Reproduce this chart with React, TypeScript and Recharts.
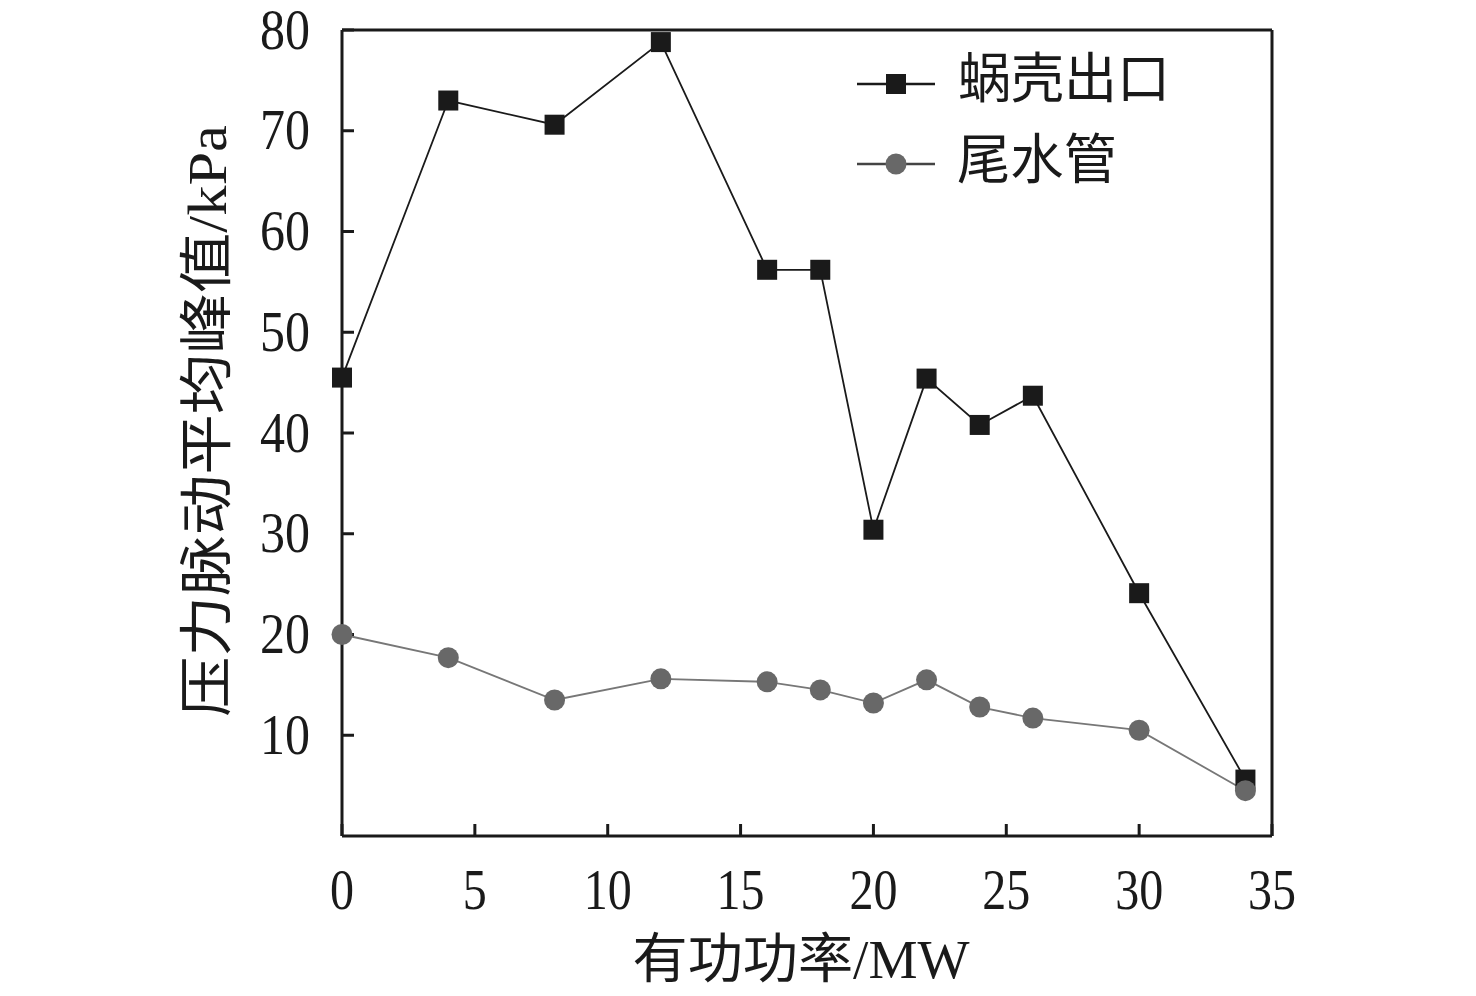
import React from 'react';
import { LineChart, Line, XAxis, YAxis, ReferenceLine, Legend, Label } from 'recharts';

const power = [0, 4, 8, 12, 16, 18, 20, 22, 24, 26, 30, 34];
const volute = [45.5, 73.0, 70.6, 78.8, 56.2, 56.2, 30.4, 45.4, 40.8, 43.7, 24.1, 5.6];
const draft = [20.0, 17.7, 13.5, 15.6, 15.3, 14.5, 13.2, 15.5, 12.8, 11.7, 10.5, 4.5];
const xTicks = [0, 5, 10, 15, 20, 25, 30, 35];
const yTicks = [10, 20, 30, 40, 50, 60, 70, 80];
const seriesNames = ['蜗壳出口', '尾水管'];
const xTitle = '有功功率/MW';
const yTitle = '压力脉动平均峰值/kPa';

const data = power.map((p, i) => ({ p, volute: volute[i], draft: draft[i] }));

const FONT = '"Liberation Serif", "Times New Roman", "Noto Sans CJK SC", serif';
const BLACK = '#1a1a1a';
const GRAY = '#686868';

const SquareDot = (props: any) => {
  const { cx, cy, index } = props;
  if (cx == null || cy == null) return null;
  return <rect key={`sq-${index}`} x={cx - 10} y={cy - 10} width={20} height={20} fill={BLACK} />;
};

const CircleDot = (props: any) => {
  const { cx, cy, index } = props;
  if (cx == null || cy == null) return null;
  return <circle key={`ci-${index}`} cx={cx} cy={cy} r={10.5} fill={GRAY} />;
};

const XTick = (props: any) => {
  const { x, y, payload } = props;
  const s = String(payload.value);
  return (
    <text
      x={x}
      y={y + 43}
      textAnchor="middle"
      fontFamily={FONT}
      fontSize={56}
      fill={BLACK}
      textLength={24 * s.length}
      lengthAdjust="spacingAndGlyphs"
    >
      {s}
    </text>
  );
};

const YTick = (props: any) => {
  const { x, y, payload } = props;
  const s = String(payload.value);
  return (
    <text
      x={x - 2}
      y={y + 18.5}
      textAnchor="end"
      fontFamily={FONT}
      fontSize={56}
      fill={BLACK}
      textLength={25 * s.length}
      lengthAdjust="spacingAndGlyphs"
    >
      {s}
    </text>
  );
};

const LegendContent = () => (
  <svg width={360} height={150} style={{ display: 'block' }}>
    <line x1={7} x2={85} y1={34} y2={34} stroke={BLACK} strokeWidth={2.5} />
    <rect x={36} y={24} width={20} height={20} fill={BLACK} />
    <text
      x={108}
      y={30}
      dominantBaseline="central"
      fontFamily={FONT}
      fontSize={54}
      fill={BLACK}
      textLength={212}
      lengthAdjust="spacingAndGlyphs"
    >
      {seriesNames[0]}
    </text>
    <line x1={7} x2={85} y1={114} y2={114} stroke="#444" strokeWidth={2.5} />
    <circle cx={46} cy={114} r={10.5} fill={GRAY} />
    <text
      x={107}
      y={111}
      dominantBaseline="central"
      fontFamily={FONT}
      fontSize={54}
      fill={BLACK}
      textLength={160}
      lengthAdjust="spacingAndGlyphs"
    >
      {seriesNames[1]}
    </text>
  </svg>
);

export default function App() {
  return (
    <div style={{ position: 'absolute', left: 0, top: 0, background: '#fff' }}>
      <LineChart
        width={1476}
        height={996}
        data={data}
        margin={{ top: 30, right: 204, bottom: 0, left: 0 }}
      >
        <XAxis
          dataKey="p"
          type="number"
          domain={[0, 35]}
          ticks={xTicks}
          interval={0}
          height={160}
          axisLine={{ stroke: BLACK, strokeWidth: 3 }}
          tickLine={{ stroke: BLACK, strokeWidth: 3 }}
          tickSize={-12}
          tickMargin={42}
          tick={<XTick />}
        >
          <Label
            content={(props: any) => {
              const vb = props.viewBox || {};
              return (
                <text
                  x={vb.x + vb.width / 2 - 6}
                  y={vb.y + 124}
                  textAnchor="middle"
                  dominantBaseline="central"
                  fontFamily={FONT}
                  fontSize={54}
                  fill={BLACK}
                  textLength={337}
                  lengthAdjust="spacingAndGlyphs"
                >
                  {xTitle}
                </text>
              );
            }}
          />
        </XAxis>
        <YAxis
          type="number"
          domain={[0, 80]}
          ticks={yTicks}
          interval={0}
          width={342}
          axisLine={{ stroke: BLACK, strokeWidth: 3 }}
          tickLine={{ stroke: BLACK, strokeWidth: 3 }}
          tickSize={-12}
          tickMargin={42}
          tick={<YTick />}
        >
          <Label
            content={(props: any) => {
              const vb = props.viewBox || {};
              const cx = vb.x + vb.width - 134;
              const cy = vb.y + vb.height / 2 - 12;
              return (
                <text
                  x={cx}
                  y={cy}
                  transform={`rotate(-90 ${cx} ${cy})`}
                  textAnchor="middle"
                  dominantBaseline="central"
                  fontFamily={FONT}
                  fontSize={54}
                  fill={BLACK}
                  textLength={592}
                  lengthAdjust="spacingAndGlyphs"
                >
                  {yTitle}
                </text>
              );
            }}
          />
        </YAxis>
        <ReferenceLine y={80} stroke={BLACK} strokeWidth={3} ifOverflow="extendDomain" />
        <ReferenceLine x={35} stroke={BLACK} strokeWidth={3} ifOverflow="extendDomain" />
        <Legend
          layout="horizontal"
          verticalAlign="middle"
          align="center"
          content={<LegendContent />}
          wrapperStyle={{ position: 'absolute', left: 850, top: 50, width: 360, height: 150 }}
        />
        <Line
          dataKey="volute"
          name={seriesNames[0]}
          stroke={BLACK}
          strokeWidth={1.8}
          dot={<SquareDot />}
          activeDot={false}
          isAnimationActive={false}
        />
        <Line
          dataKey="draft"
          name={seriesNames[1]}
          stroke="#777777"
          strokeWidth={1.8}
          dot={<CircleDot />}
          activeDot={false}
          isAnimationActive={false}
        />
      </LineChart>
    </div>
  );
}
